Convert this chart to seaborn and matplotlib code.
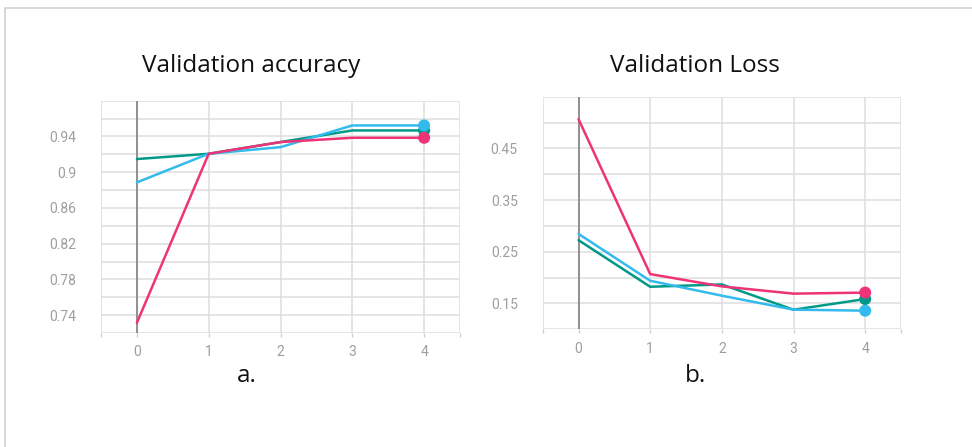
import numpy as np
import pandas as pd
import matplotlib
matplotlib.use("Agg")
import matplotlib.pyplot as plt
import seaborn as sns
from matplotlib.patches import Rectangle

# ---- data ----
epochs = [0, 1, 2, 3, 4]
series_names = ["run_green", "run_blue", "run_pink"]
colors = ["#009988", "#33bbee", "#ee3377"]

acc_green = [0.9147, 0.9206, 0.9337, 0.9467, 0.9467]
acc_blue = [0.8886, 0.9206, 0.9280, 0.9523, 0.9523]
acc_pink = [0.7314, 0.9206, 0.9337, 0.9385, 0.9385]

loss_green = [0.2724, 0.1823, 0.1868, 0.1379, 0.1585]
loss_blue = [0.2846, 0.1939, 0.1650, 0.1380, 0.1360]
loss_pink = [0.5066, 0.2068, 0.1830, 0.1690, 0.1710]

acc_ticks = [0.72, 0.74, 0.76, 0.78, 0.80, 0.82, 0.84, 0.86, 0.88, 0.90,
             0.92, 0.94, 0.96, 0.98]
acc_labels = ["", "0.74", "", "0.78", "", "0.82", "", "0.86", "", "0.9",
              "", "0.94", "", ""]
loss_ticks = [0.10, 0.15, 0.20, 0.25, 0.30, 0.35, 0.40, 0.45, 0.50, 0.55]
loss_labels = ["", "0.15", "", "0.25", "", "0.35", "", "0.45", "", ""]
x_ticks = [-0.5, 0, 1, 2, 3, 4, 4.5]
x_labels = ["", "0", "1", "2", "3", "4", ""]

titles = ["Validation accuracy", "Validation Loss"]
sublabels = ["a.", "b."]


def long_df(g, b, p):
    rows = []
    for name, vals in zip(series_names, [g, b, p]):
        for e, v in zip(epochs, vals):
            rows.append({"epoch": e, "value": v, "run": name})
    return pd.DataFrame(rows)


sns.set_theme(style="white")
plt.rcParams["font.family"] = ["Roboto", "DejaVu Sans"]

fig = plt.figure(figsize=(9.72, 4.47), dpi=100)
fig.patch.set_facecolor("white")

# outer frame (only top and left visible)
fig.add_artist(Rectangle((5 / 972, -0.2), 1.2, 1 - 8 / 447 + 0.2,
                         transform=fig.transFigure, fill=False,
                         edgecolor="#d6d6d6", linewidth=1.3))

panels = [
    dict(pos=[101 / 972, 1 - 333 / 447, 359 / 972, 232.3 / 447],
         data=long_df(acc_green, acc_blue, acc_pink),
         ylim=(0.72, 0.98), yt=acc_ticks, yl=acc_labels,
         title_xy=(251, 71.5), sub_xy=(247, 382.3)),
    dict(pos=[542.7 / 972, 1 - 329.3 / 447, 358.3 / 972, 232.6 / 447],
         data=long_df(loss_green, loss_blue, loss_pink),
         ylim=(0.10, 0.55), yt=loss_ticks, yl=loss_labels,
         title_xy=(694.5, 71.5), sub_xy=(695, 382.3)),
]

pal = dict(zip(series_names, colors))
grid_c = "#dedede"
tick_c = "#9e9e9e"

for i, p in enumerate(panels):
    ax = fig.add_axes(p["pos"])
    df = p["data"]
    sns.lineplot(data=df, x="epoch", y="value", hue="run",
                 hue_order=series_names, palette=pal, linewidth=1.8,
                 legend=False, ax=ax, zorder=3)
    last = df[df["epoch"] == epochs[-1]]
    sns.scatterplot(data=last, x="epoch", y="value", hue="run",
                    hue_order=series_names, palette=pal, s=75,
                    edgecolor="none", legend=False, ax=ax, zorder=4,
                    clip_on=False)
    ax.set_xlim(-0.5, 4.5)
    ax.set_ylim(*p["ylim"])
    ax.set_xticks(x_ticks)
    ax.set_xticklabels(x_labels)
    ax.set_yticks(p["yt"])
    ax.set_yticklabels(p["yl"])
    ax.grid(True, color=grid_c, linewidth=1.1, zorder=0)
    ax.set_axisbelow(True)
    for s in ax.spines.values():
        s.set_visible(False)
    ax.axvline(0, color="#8a8a8a", linewidth=1.3, zorder=2)
    ax.tick_params(axis="x", length=3, width=1.0, color="#d0d0d0",
                   labelcolor=tick_c, labelsize=10, pad=6, bottom=True)
    ax.tick_params(axis="y", length=0, labelcolor=tick_c, labelsize=10,
                   pad=18, left=True)
    ax.set_xlabel("")
    ax.set_ylabel("")
    tx, ty = p["title_xy"]
    fig.text(tx / 972, 1 - ty / 447, titles[i], ha="center", va="baseline",
             fontsize=17.5, family=["Open Sans", "DejaVu Sans"],
             color="#111111")
    sx, sy = p["sub_xy"]
    fig.text(sx / 972, 1 - sy / 447, sublabels[i], ha="center",
             va="baseline", fontsize=17.5, family=["Open Sans", "DejaVu Sans"],
             color="#111111")

fig.savefig("out.png", dpi=100, facecolor="white")
